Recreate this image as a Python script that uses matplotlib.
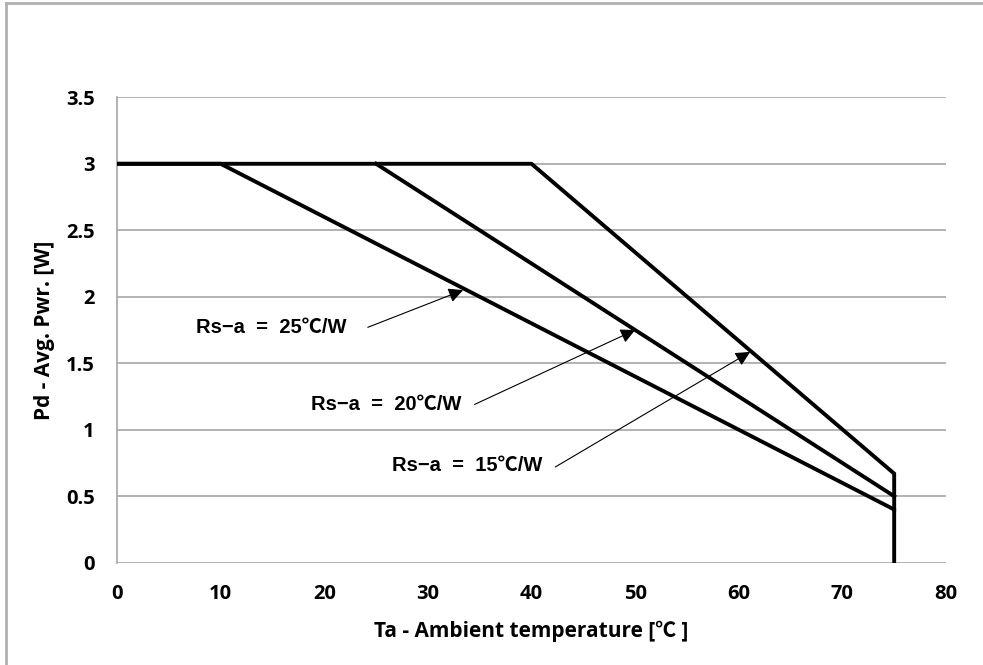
import matplotlib.pyplot as plt
from matplotlib.lines import Line2D

# derating curves (Ta [degC], Pd [W])
ta_25 = [0, 10, 75, 75]
pd_25 = [3, 3, 0.4, 0]
ta_20 = [25, 75]
pd_20 = [3, 0.5]
ta_15 = [0, 40, 75, 75]
pd_15 = [3, 3, 0.67, 0.4]

labels = ['Rs\u2212a  =  25\u2103/W', 'Rs\u2212a  =  20\u2103/W', 'Rs\u2212a  =  15\u2103/W']
label_pos = [(7.6, 1.77), (18.7, 1.19), (26.5, 0.73)]
arrow_tail = [(24.2, 1.77), (34.5, 1.19), (42.3, 0.72)]
arrow_head = [(33.4, 2.05), (50.0, 1.75), (61.1, 1.585)]

xticks = list(range(0, 81, 10))
yticks = [0, 0.5, 1, 1.5, 2, 2.5, 3, 3.5]
yticklabels = ['0', '0.5', '1', '1.5', '2', '2.5', '3', '3.5']

tick_font = ['Open Sans', 'Noto Sans CJK SC', 'DejaVu Sans']
note_font = ['Liberation Sans', 'Noto Sans CJK SC', 'DejaVu Sans']

fig = plt.figure(figsize=(9.83, 6.65), dpi=100)
ax = fig.add_axes([117 / 983, 1 - 562.7 / 665, 829 / 983, 465.4 / 665])

for ts, ps in [(ta_25, pd_25), (ta_20, pd_20), (ta_15, pd_15)]:
    ax.plot(ts, ps, color='black', lw=2.8, solid_joinstyle='miter', zorder=3)

ax.set_xlim(0, 80)
ax.set_ylim(0, 3.5)
ax.set_xticks(xticks)
ax.set_yticks(yticks)
ax.set_yticklabels(yticklabels)
ax.grid(axis='y', color='#a6a6a6', lw=1.2)
ax.set_axisbelow(True)
for s in ['top', 'right', 'bottom']:
    ax.spines[s].set_visible(False)
ax.spines['left'].set_color('#a6a6a6')
ax.spines['left'].set_linewidth(1.2)
ax.tick_params(axis='y', length=0, pad=16, labelsize=14.5)
ax.tick_params(axis='x', length=0, pad=15, labelsize=14.5)
for t in ax.get_xticklabels() + ax.get_yticklabels():
    t.set_fontfamily(tick_font)
    t.set_fontweight('bold')

ax.set_xlabel('Ta - Ambient temperature [\u2103 ]', fontsize=15, fontweight='bold',
              family=tick_font, labelpad=12)
ax.set_ylabel('Pd - Avg. Pwr. [W]', fontsize=15, fontweight='bold',
              family=tick_font, labelpad=8)

for txt, pos, tail, head in zip(labels, label_pos, arrow_tail, arrow_head):
    ax.text(pos[0], pos[1], txt, ha='left', va='center', fontsize=14.5,
            fontweight='bold', family=note_font)
    ax.annotate('', xy=head, xytext=tail,
                arrowprops=dict(arrowstyle='-|>', color='black', lw=0.8,
                                mutation_scale=22, shrinkA=0, shrinkB=0))

# outer frame (top and left edges visible)
fig.add_artist(Line2D([6 / 983, 6 / 983], [0, 1 - 3 / 665], color='#b0b0b0', lw=2,
                      transform=fig.transFigure))
fig.add_artist(Line2D([6 / 983, 1], [1 - 3 / 665, 1 - 3 / 665], color='#b0b0b0', lw=2,
                      transform=fig.transFigure))

fig.savefig('out.png', dpi=100)
